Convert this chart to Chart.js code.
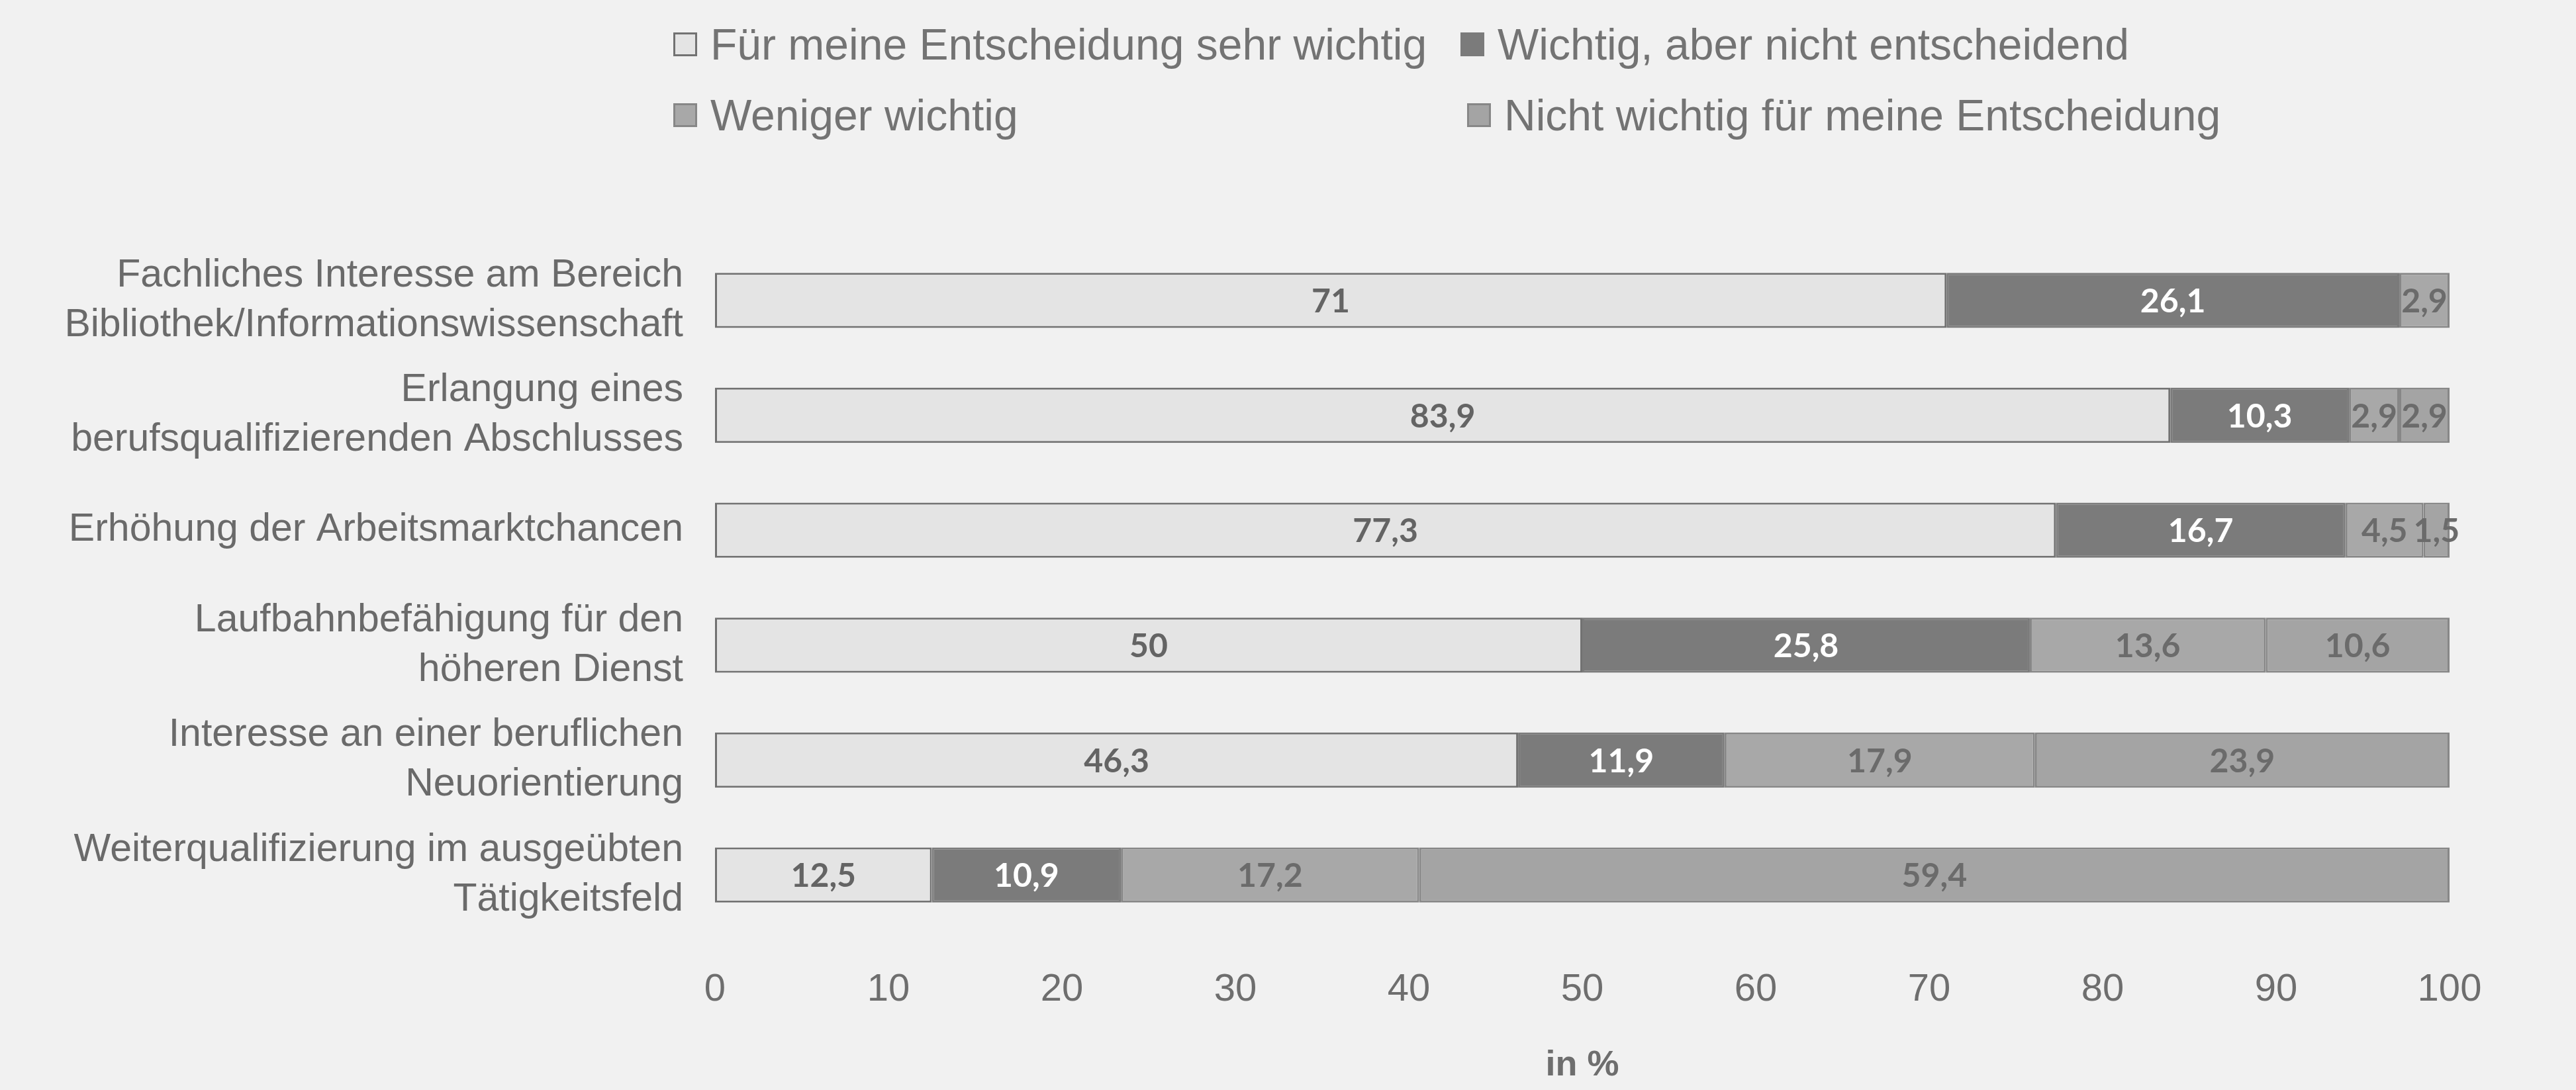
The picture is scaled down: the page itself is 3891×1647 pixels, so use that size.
<!DOCTYPE html>
<html>
<head>
<meta charset="utf-8">
<script src="https://cdn.jsdelivr.net/npm/chart.js@4.4.1/dist/chart.umd.min.js"></script>
<style>
html,body{margin:0;padding:0;background:#f1f1f1;}
#wrap{position:relative;width:3891px;height:1647px;overflow:hidden;background:#f1f1f1;}
#c{position:absolute;left:0;top:0;}
.leg{position:absolute;font-family:"Liberation Sans",Arial,sans-serif;font-size:66px;line-height:76px;color:#737373;display:flex;align-items:center;white-space:nowrap;}
.leg i{display:inline-block;width:36px;height:36px;margin-right:20px;box-sizing:border-box;border:3px solid #888;}
</style>
</head>
<body>
<div id="wrap">
<canvas id="c" width="3891" height="1647"></canvas>
</div>
<script>
// ---- data ----
const categories = [
  ["Fachliches Interesse am Bereich", "Bibliothek/Informationswissenschaft"],
  ["Erlangung eines", "berufsqualifizierenden Abschlusses"],
  "Erhöhung der Arbeitsmarktchancen",
  ["Laufbahnbefähigung für den", "höheren Dienst"],
  ["Interesse an einer beruflichen", "Neuorientierung"],
  ["Weiterqualifizierung im ausgeübten", "Tätigkeitsfeld"]
];
const seriesNames = [
  "Für meine Entscheidung sehr wichtig",
  "Wichtig, aber nicht entscheidend",
  "Weniger wichtig",
  "Nicht wichtig für meine Entscheidung"
];
const sehrWichtig = [71, 83.9, 77.3, 50, 46.3, 12.5];
const wichtig     = [26.1, 10.3, 16.7, 25.8, 11.9, 10.9];
const weniger     = [2.9, 2.9, 4.5, 13.6, 17.9, 17.2];
const nichtWichtig= [0, 2.9, 1.5, 10.6, 23.9, 59.4];
const xTickValues = [0, 10, 20, 30, 40, 50, 60, 70, 80, 90, 100];
const axisTitle = "in %";

// ---- styles ----
const fills   = ["#e4e4e4", "#7b7b7b", "#a8a8a8", "#a4a4a4"];
const borders = ["#727272", "#7b7b7b", "#878787", "#878787"];
const labelColors = ["#646464", "#ffffff", "#6b6b6b", "#6b6b6b"];
const seriesData = [sehrWichtig, wichtig, weniger, nichtWichtig];

// legend (HTML, 2 x 2 grid)
const legPos = [[1017, 29], [2206, 29], [1017, 136], [2216, 136]];
const wrap = document.getElementById('wrap');
seriesNames.forEach((n, i) => {
  const d = document.createElement('div');
  d.className = 'leg';
  d.style.left = legPos[i][0] + 'px';
  d.style.top = legPos[i][1] + 'px';
  const b = document.createElement('i');
  b.style.background = fills[i];
  b.style.borderColor = i === 1 ? fills[i] : borders[i];
  d.appendChild(b);
  d.appendChild(document.createTextNode(n));
  wrap.appendChild(d);
});

const valueLabels = {
  id: 'valueLabels',
  afterDatasetsDraw(chart) {
    const ctx = chart.ctx;
    ctx.save();
    ctx.font = 'bold 50px Lato, "Open Sans", sans-serif';
    ctx.textAlign = 'center';
    ctx.textBaseline = 'middle';
    chart.data.datasets.forEach((ds, di) => {
      const meta = chart.getDatasetMeta(di);
      meta.data.forEach((el, i) => {
        const v = ds.data[i];
        if (!v) return;
        const p = el.getProps(['x', 'y', 'base'], true);
        ctx.fillStyle = labelColors[di];
        ctx.fillText(String(v).replace('.', ','), (p.x + p.base) / 2, p.y + 2);
      });
    });
    ctx.restore();
  }
};

new Chart(document.getElementById('c'), {
  type: 'bar',
  data: {
    labels: categories,
    datasets: seriesNames.map((n, i) => ({
      label: n,
      data: seriesData[i],
      backgroundColor: fills[i],
      borderColor: borders[i],
      borderWidth: 3,
      borderSkipped: false,
      barPercentage: 0.48,
      categoryPercentage: 1
    }))
  },
  options: {
    indexAxis: 'y',
    responsive: false,
    animation: false,
    devicePixelRatio: 1,
    layout: { padding: { top: 367, right: 191, left: 0, bottom: 0 } },
    plugins: { legend: { display: false }, tooltip: { enabled: false } },
    scales: {
      x: {
        stacked: true,
        min: 0, max: 100,
        afterBuildTicks: s => { s.ticks = xTickValues.map(v => ({ value: v })); },
        afterFit: s => { s.height = 238; },
        grid: { display: false },
        border: { display: false },
        ticks: {
          padding: 44,
          color: '#6e6e6e',
          font: { family: '"Liberation Sans", Arial, sans-serif', size: 58 }
        },
        title: {
          display: true,
          text: axisTitle,
          color: '#6e6e6e',
          font: { family: '"Liberation Sans", Arial, sans-serif', size: 54, weight: 'bold' }
        }
      },
      y: {
        stacked: true,
        afterFit: s => { s.width = 1080; },
        grid: { display: false },
        border: { display: false },
        ticks: {
          padding: 40,
          color: '#6a6a6a',
          font: { family: '"Liberation Sans", Arial, sans-serif', size: 59, lineHeight: 1.27 }
        }
      }
    }
  },
  plugins: [valueLabels]
});
</script>
</body>
</html>
